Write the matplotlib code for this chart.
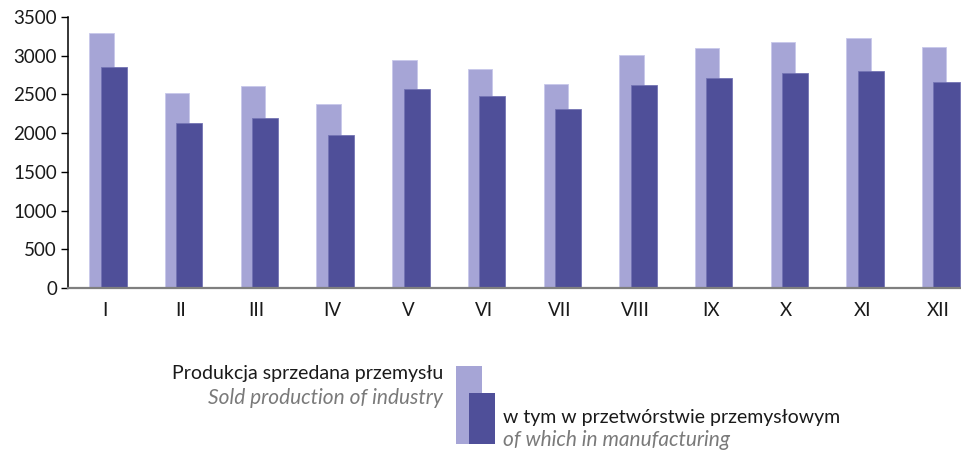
import matplotlib
matplotlib.use("Agg")
import matplotlib.pyplot as plt
from matplotlib.patches import Rectangle
import numpy as np

months = ["I", "II", "III", "IV", "V", "VI", "VII", "VIII", "IX", "X", "XI", "XII"]
sold_production = [3289, 2523, 2609, 2376, 2949, 2824, 2639, 3009, 3095, 3181, 3225, 3108]
manufacturing = [2850, 2135, 2196, 1980, 2566, 2480, 2308, 2622, 2708, 2781, 2798, 2656]
y_ticks = [0, 500, 1000, 1500, 2000, 2500, 3000, 3500]

light = "#A6A5D6"
dark = "#4F4F99"
plt.rcParams['font.family'] = ['Lato', 'DejaVu Sans']

W, H = 962, 454
fig = plt.figure(figsize=(W / 100, H / 100), dpi=100)
ax = fig.add_axes([68 / W, (H - 288) / H, (W - 68) / W, (288 - 17) / H])

x = np.arange(len(months))
ax.bar(x - 0.207, sold_production, width=0.322, align='edge', color=light,
       edgecolor="#C8C8EA", linewidth=0.6, zorder=2)
ax.bar(x - 0.057, manufacturing, width=0.344, align='edge', color=dark,
       edgecolor="#7474B4", linewidth=0.6, zorder=3)

ax.set_xlim(-0.489, 11.32)
ax.set_ylim(0, 3500)
ax.set_yticks(y_ticks)
ax.set_yticklabels([str(v) for v in y_ticks], fontsize=13.5, color="#1a1a1a")
ax.set_xticks(x)
ax.set_xticklabels(months, fontsize=13.5, color="#1a1a1a")
ax.tick_params(axis='x', length=0, pad=10)
ax.tick_params(axis='y', length=5, width=1, direction='out', pad=3)

for s in ["top", "right"]:
    ax.spines[s].set_visible(False)
ax.spines["left"].set_color("#000000")
ax.spines["left"].set_linewidth(1.1)
ax.spines["bottom"].set_color("#7f7f7f")
ax.spines["bottom"].set_linewidth(1.6)
ax.spines["bottom"].set_zorder(4)

# Legend drawn manually
def fx(px):
    return px / W

def fy(py):
    return (H - py) / H

fig.patches.append(Rectangle((fx(456), fy(444)), 26 / W, 78 / H, transform=fig.transFigure,
                             facecolor=light, edgecolor="none"))
fig.patches.append(Rectangle((fx(469), fy(444)), 26 / W, 51 / H, transform=fig.transFigure,
                             facecolor=dark, edgecolor="none"))

fs = 14
fs_it = 15
fig.text(fx(443), fy(374), "Produkcja sprzedana przemysłu", ha='right', va='center',
         fontsize=fs, color="#1a1a1a")
fig.text(fx(443), fy(398), "Sold production of industry", ha='right', va='center',
         fontsize=fs_it, color="#7a7a7a", style='italic')
fig.text(fx(503), fy(417), "w tym w przetwórstwie przemysłowym", ha='left', va='center',
         fontsize=fs, color="#1a1a1a")
fig.text(fx(503), fy(440), "of which in manufacturing", ha='left', va='center',
         fontsize=fs_it, color="#7a7a7a", style='italic')

fig.savefig("out.png", dpi=100)
